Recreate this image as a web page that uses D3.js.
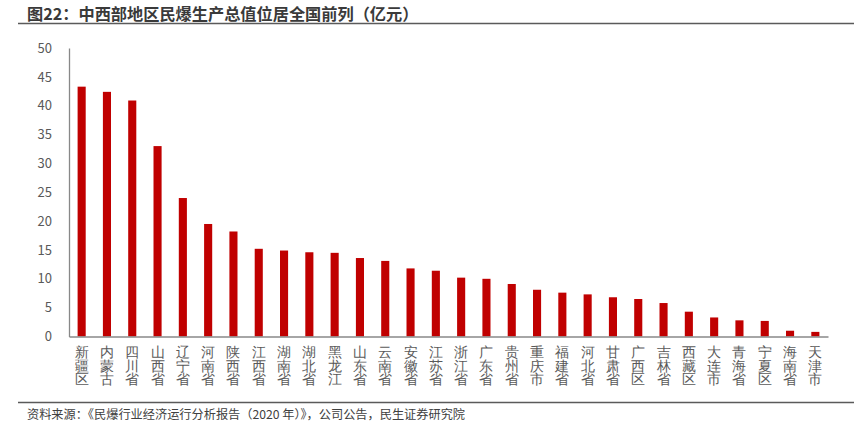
<!doctype html>
<meta charset=utf8>
<title>图22</title>
<style>
  html, body {
    margin: 0;
    background: white;
  }
  svg {
    display: block;
    font-family: "Noto Sans CJK SC", "Noto Sans", sans-serif;
  }
</style>
<svg width=865 height=440></svg>
<script src=https://cdnjs.cloudflare.com/ajax/libs/d3/7.8.5/d3.min.js></script>
<script>
  var regions = ['新疆区', '内蒙古', '四川省', '山西省', '辽宁省', '河南省', '陕西省', '江西省', '湖南省', '湖北省',
    '黑龙江', '山东省', '云南省', '安徽省', '江苏省', '浙江省', '广东省', '贵州省', '重庆市', '福建省',
    '河北省', '甘肃省', '广西区', '吉林省', '西藏区', '大连市', '青海省', '宁夏区', '海南省', '天津市'];
  var output = [43.3, 42.4, 40.9, 33.0, 24.0, 19.5, 18.2, 15.2, 14.9, 14.6,
    14.5, 13.6, 13.1, 11.8, 11.4, 10.2, 10.0, 9.1, 8.1, 7.6,
    7.3, 6.8, 6.5, 5.8, 4.3, 3.3, 2.8, 2.7, 1.0, 0.8];
  var yTicks = [0, 5, 10, 15, 20, 25, 30, 35, 40, 45, 50];

  var title = '图22：中西部地区民爆生产总值位居全国前列（亿元）';
  var source = '资料来源：《民爆行业经济运行分析报告（2020 年）》，公司公告，民生证券研究院';

  var svg = d3.select('svg');
  var plotLeft = 69, plotRight = 828, plotTop = 48, plotBottom = 336.5;

  var x = d3.scaleBand().domain(regions).range([plotLeft, plotRight]).paddingInner(0.68).paddingOuter(0.34);
  var y = d3.scaleLinear().domain([0, 50]).range([plotBottom, plotTop]);

  // title + rules
  svg.append('text')
    .attr('x', 27).attr('y', 20)
    .attr('font-size', 16.2).attr('font-weight', 'bold').attr('fill', '#3a3a3a')
    .text(title);
  svg.append('line').attr('x1', 18).attr('x2', 854).attr('y1', 23.5).attr('y2', 23.5)
    .attr('stroke', '#5a5a5a').attr('stroke-width', 1.4);
  svg.append('line').attr('x1', 18).attr('x2', 854).attr('y1', 402.5).attr('y2', 402.5)
    .attr('stroke', '#5a5a5a').attr('stroke-width', 1.4);
  svg.append('text')
    .attr('x', 27).attr('y', 419)
    .attr('font-size', 12.2).attr('fill', '#404040')
    .text(source);

  // bars
  svg.append('g').selectAll('rect')
    .data(output)
    .enter()
    .append('rect')
    .attr('x', function (d, i) { return x(regions[i]); })
    .attr('width', x.bandwidth())
    .attr('y', function (d) { return y(d); })
    .attr('height', function (d) { return y(0) - y(d); })
    .attr('fill', '#c00000');

  // y axis
  var yAxis = svg.append('g')
    .attr('transform', 'translate(' + plotLeft + ',0)')
    .call(d3.axisLeft(y).tickValues(yTicks).tickSize(0).tickPadding(17));
  yAxis.select('.domain').attr('stroke', '#888').attr('stroke-width', 1.3);
  yAxis.selectAll('text').attr('font-size', 13).attr('fill', '#595959')
    .attr('font-family', '"Noto Sans CJK SC", sans-serif');

  // x axis with vertical stacked labels
  var xAxis = svg.append('g')
    .attr('transform', 'translate(0,' + plotBottom + ')')
    .call(d3.axisBottom(x).tickSize(0).tickFormat(''));
  xAxis.select('.domain').attr('stroke', '#888').attr('stroke-width', 1.3);
  xAxis.selectAll('.tick').each(function (d) {
    var t = d3.select(this).append('text')
      .attr('fill', '#595959')
      .attr('font-size', 13.5)
      .attr('text-anchor', 'middle');
    d.split('').forEach(function (ch, k) {
      t.append('tspan').attr('x', 0).attr('y', 20.5 + k * 13.5).text(ch);
    });
  });
</script>
